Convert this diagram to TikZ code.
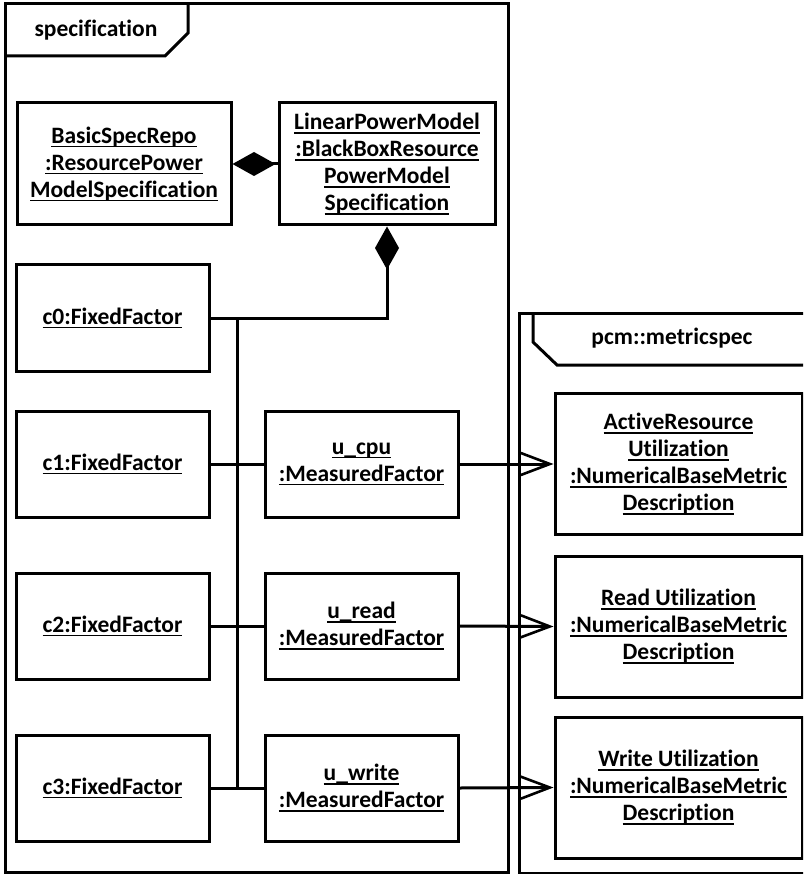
\documentclass[tikz,border=0pt]{standalone}
\usepackage{fontspec}
\setmainfont{Carlito}[Ligatures=NoCommon]
\usetikzlibrary{arrows.meta}

% underlined object name with a fixed underline depth
\newsavebox\objbox
\newcommand\objname[1]{\sbox\objbox{#1}\rlap{\rule[-4pt]{\wd\objbox}{1.7pt}}\usebox\objbox}

\tikzset{
  umlfont/.style={font=\fontsize{23.5}{27}\selectfont\bfseries},
  obj/.style={draw, line width=3pt, align=center, inner sep=0pt, umlfont},
  fbox/.style={obj, minimum width=193pt, minimum height=106pt},
  mbox/.style={obj, minimum width=247pt, minimum height=141pt},
  frameline/.style={line width=3pt},
  link/.style={line width=3pt},
  comp/.style={link, {Diamond[length=43pt,width=24pt]}-},
  dep/.style={link, -{Straight Barb[length=29pt,width=22pt,line width=2.6pt]}},
}

\begin{document}
\begin{tikzpicture}[x=1pt,y=-1pt]
\useasboundingbox (0,0) rectangle (803,874);
\clip (0,0) rectangle (803,874);

% package frame: specification
\draw[frameline] (5,4) rectangle (508,872);
\draw[frameline] (188,4) -- (188,33) -- (165,56) -- (5,56);
\node[umlfont] (spectitle) at (96,30) {specification};

% package frame: pcm::metricspec
\draw[frameline] (815,313) -- (519,313) -- (519,873) -- (815,873);
\draw[frameline] (533,313) -- (533,342) -- (557,365) -- (815,365);
\node[umlfont] (pcmtitle) at (672,338) {pcm::metricspec};

% objects in specification
\node[obj, minimum width=214pt, minimum height=122pt] (basic) at (124,164)
  {\objname{BasicSpecRepo}\\\objname{:ResourcePower}\\\objname{ModelSpecification}};
\node[obj, minimum width=216pt, minimum height=122pt] (lpm) at (387,164)
  {\objname{LinearPowerModel}\\\objname{:BlackBoxResource}\\\objname{PowerModel}\\\objname{Specification}};

\node[fbox] (c0) at (112.5,318) {\objname{c0:FixedFactor}};
\node[fbox] (c1) at (112.5,464) {\objname{c1:FixedFactor}};
\node[fbox] (c2) at (112.5,626) {\objname{c2:FixedFactor}};
\node[fbox] (c3) at (112.5,788) {\objname{c3:FixedFactor}};

\node[fbox] (ucpu) at (361.5,464) {\objname{u\_cpu}\\\objname{:MeasuredFactor}};
\node[fbox] (uread) at (361.5,626) {\objname{u\_read}\\\objname{:MeasuredFactor}};
\node[fbox] (uwrite) at (361.5,788) {\objname{u\_write}\\\objname{:MeasuredFactor}};

% objects in pcm::metricspec
\node[mbox] (m1) at (678.5,464)
  {\objname{ActiveResource}\\\objname{Utilization}\\\objname{:NumericalBaseMetric}\\\objname{Description}};
\node[mbox] (m2) at (678.5,626.5)
  {\objname{Read Utilization}\\\objname{:NumericalBaseMetric}\\\objname{Description}};
\node[mbox] (m3) at (678.5,787.5)
  {\objname{Write Utilization}\\\objname{:NumericalBaseMetric}\\\objname{Description}};

% compositions
\draw[comp] (basic.east) -- (lpm.west);
\draw[comp] (lpm.south) |- (c0.east);

% shared link bus
\coordinate (busx) at (237,0);
\draw[link] (busx |- c0.east) -- (busx |- c3.east);
\draw[link] (c1.east) -- (ucpu.west);
\draw[link] (c2.east) -- (uread.west);
\draw[link] (c3.east) -- (uwrite.west);

% references to metric descriptions
\draw[dep] (ucpu.east) -- (m1.west);
\draw[dep] (uread.east) -- (m2.west);
\draw[dep] (uwrite.east) -- (m3.west);
\end{tikzpicture}
\end{document}
